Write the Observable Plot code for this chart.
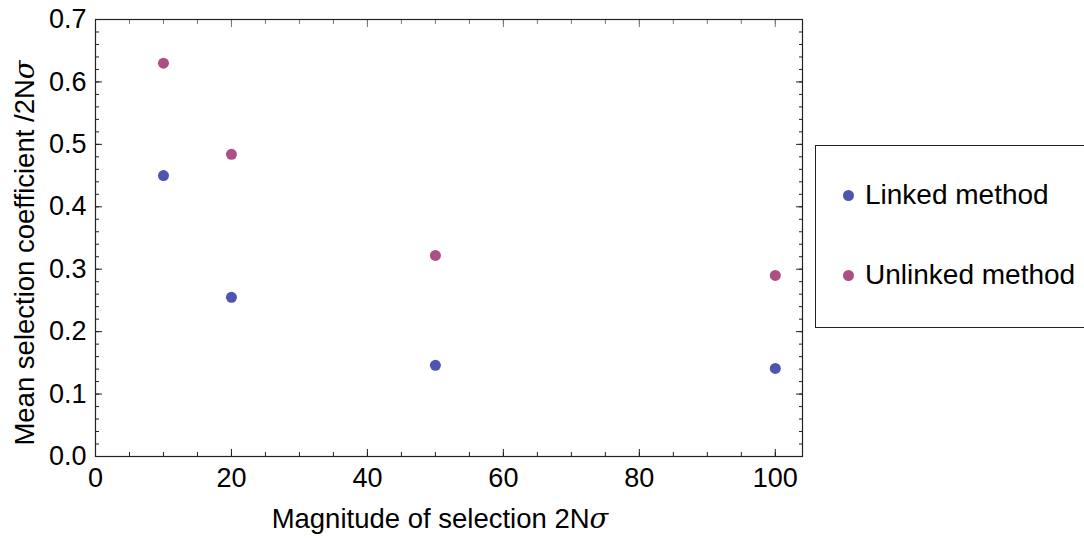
<!DOCTYPE html>
<html><head><meta charset="utf-8">
<script src="https://cdn.jsdelivr.net/npm/d3@7"></script>
<script src="https://cdn.jsdelivr.net/npm/@observablehq/plot@0.6"></script>
<style>
body{margin:0;background:#fff;font-family:"Liberation Sans",Arial,sans-serif;}
#wrap{position:relative;width:1084px;height:539px;overflow:hidden;}
#legend{position:absolute;left:815px;top:145px;width:300px;height:183px;border:1.5px solid #222;box-sizing:border-box;}
.item{position:absolute;left:27px;font-size:28px;display:flex;align-items:center;color:#000;}
.dot{width:11px;height:11px;border-radius:50%;margin-right:11px;}
</style></head><body><div id="wrap"><div id="plot"></div><div id="legend"></div></div>
<script>
const series = ["Linked method", "Unlinked method"];
const colors = ["#4e55ae", "#ad4f84"];
const xValues = [10, 20, 50, 100];
const linked = [0.450, 0.255, 0.146, 0.141];
const unlinked = [0.630, 0.484, 0.322, 0.290];
const xTicks = [0, 20, 40, 60, 80, 100];
const yTicks = [0, 0.1, 0.2, 0.3, 0.4, 0.5, 0.6, 0.7];
const xLabel = "Magnitude of selection 2Nσ";
const yLabel = "Mean selection coefficient /2Nσ";

const data = [
  ...xValues.map((x, i) => ({x, y: linked[i], series: series[0]})),
  ...xValues.map((x, i) => ({x, y: unlinked[i], series: series[1]}))
];
const xMinor = d3.range(0, 105, 5);
const yMinor = d3.range(0, 0.701, 0.02);
const blank = () => "";

const chart = Plot.plot({
  width: 805, height: 539,
  marginLeft: 95, marginRight: 3, marginTop: 19, marginBottom: 83,
  style: {fontFamily: "Liberation Sans, Arial, sans-serif", fontSize: "27px", color: "#000", background: "#fff"},
  x: {domain: [0, 104]},
  y: {domain: [0, 0.7]},
  color: {domain: series, range: colors},
  marks: [
    Plot.axisX({anchor: "bottom", ticks: xMinor, tickSize: -4, tickFormat: blank, label: null, stroke: "#222"}),
    Plot.axisX({anchor: "top", ticks: xMinor, tickSize: -4, tickFormat: blank, label: null, stroke: "#777"}),
    Plot.axisX({anchor: "bottom", ticks: xTicks, tickSize: -7, tickFormat: blank, label: null, stroke: "#222"}),
    Plot.axisX({anchor: "top", ticks: xTicks, tickSize: -7, tickFormat: blank, label: null, stroke: "#777"}),
    Plot.axisY({anchor: "left", ticks: yMinor, tickSize: -4, tickFormat: blank, label: null, stroke: "#222"}),
    Plot.axisY({anchor: "right", ticks: yMinor, tickSize: -4, tickFormat: blank, label: null, stroke: "#222"}),
    Plot.axisY({anchor: "left", ticks: yTicks, tickSize: -7, tickFormat: blank, label: null, stroke: "#222"}),
    Plot.axisY({anchor: "right", ticks: yTicks, tickSize: -7, tickFormat: blank, label: null, stroke: "#222"}),
    Plot.axisX({anchor: "bottom", ticks: xTicks, tickSize: 0, tickPadding: 11, fontSize: 27, tickFormat: d => String(d),
      label: xLabel, labelAnchor: "center", labelArrow: "none", labelOffset: 71}),
    Plot.axisY({anchor: "left", ticks: yTicks, tickSize: 0, tickPadding: 9, fontSize: 27, tickFormat: d3.format(".1f"),
      label: yLabel, labelAnchor: "center", labelArrow: "none", labelOffset: 81}),
    Plot.frame({stroke: "#222", strokeWidth: 1.2}),
    Plot.dot(data, {x: "x", y: "y", fill: "series", r: 5.5})
  ]
});
document.getElementById("plot").appendChild(chart);

// italic sigma in axis titles
d3.select(chart).selectAll('[aria-label="x-axis label"] text, [aria-label="y-axis label"] text').each(function () {
  const t = d3.select(this);
  const s = t.text();
  const idx = s.lastIndexOf("σ");
  if (idx < 0) return;
  t.text(null);
  t.append("tspan").text(s.slice(0, idx));
  t.append("tspan").attr("font-style", "italic").attr("font-family", "DejaVu Serif, serif").text("σ");
  t.attr("font-size", 27.5);
});
d3.select(chart).selectAll('[aria-label="x-axis label"] text').attr("dx", -9);
d3.select(chart).selectAll('[aria-label="y-axis label"] text').attr("dx", -15);

const legend = d3.select("#legend");
series.forEach((s, i) => {
  const item = legend.append("div").attr("class", "item").style("top", (i === 0 ? 33 : 113) + "px");
  item.append("div").attr("class", "dot").style("background", colors[i]);
  item.append("span").text(s);
});
</script></body></html>
